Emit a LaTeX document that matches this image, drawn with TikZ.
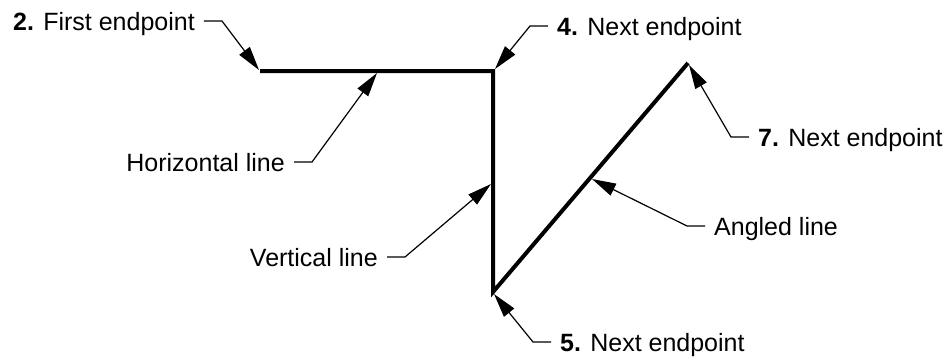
\documentclass[tikz,border=0pt]{standalone}
\usepackage{fontspec}
\setmainfont{Liberation Sans}
\usetikzlibrary{arrows.meta}
\tikzset{
  lbl/.style={font=\fontsize{25}{30}\selectfont, inner xsep=9pt, inner ysep=0pt, text height=18pt, text depth=0pt},
  mainline/.style={line width=4pt, line join=miter},
  leader/.style={line width=1.2pt, -{Triangle[length=24pt,width=13pt]}},
}
\begin{document}
\begin{tikzpicture}[x=1pt,y=-1pt]
\fill[white] (0,0) rectangle (944,356);
\useasboundingbox (0,0) rectangle (944,356);
% figure points
\coordinate (P2) at (260,71);
\coordinate (P4) at (493,71);
\coordinate (P5) at (493,292);
\coordinate (P7) at (688,63);
% arrow targets
\coordinate (T2) at (259,70);
\coordinate (TH) at (377,73);
\coordinate (T4) at (495,69);
\coordinate (T7) at (689,65);
\coordinate (TV) at (491,184);
\coordinate (TA) at (592,179);
\coordinate (T5) at (494,294);
% lines
\draw[mainline] (P2) -- (P4) -- (P5) -- (P7);
% labels
\node[lbl, anchor=west] (t2) at (4,21) {\textbf{2.} First endpoint};
\node[lbl, anchor=east] (tH) at (294,162) {Horizontal line};
\node[lbl, anchor=west] (t4) at (548,26) {\textbf{4.} Next endpoint};
\node[lbl, anchor=west] (t7) at (749,137) {\textbf{7.} Next endpoint};
\node[lbl, anchor=east] (tV) at (387,257) {Vertical line};
\node[lbl, anchor=west] (tA) at (705,226) {Angled line};
\node[lbl, anchor=west] (t5) at (551,342) {\textbf{5.} Next endpoint};
% leaders
\draw[leader] (t2.east) -- ++(18,0) -- (T2);
\draw[leader] (tH.east) -- ++(18,0) -- (TH);
\draw[leader] (t4.west) -- ++(-18,0) -- (T4);
\draw[leader] (t7.west) -- ++(-18,0) -- (T7);
\draw[leader] (tV.east) -- ++(18,0) -- (TV);
\draw[leader] (tA.west) -- ++(-18,0) -- (TA);
\draw[leader] (t5.west) -- ++(-18,0) -- (T5);
\end{tikzpicture}
\end{document}
